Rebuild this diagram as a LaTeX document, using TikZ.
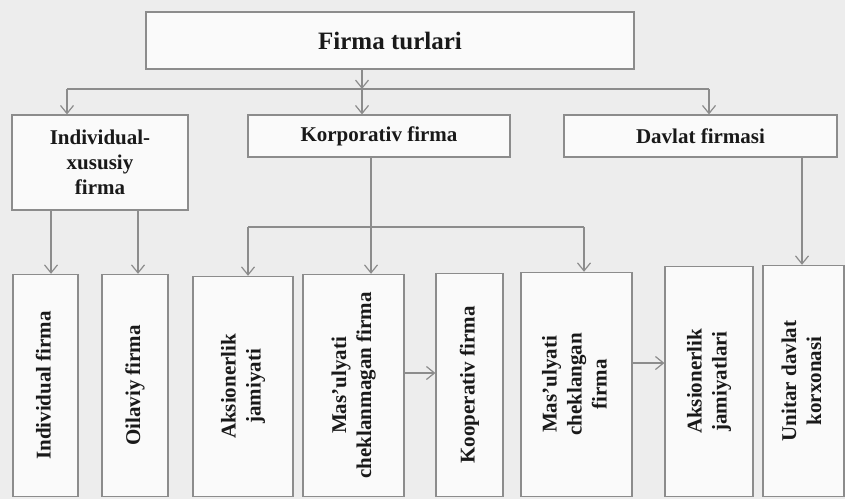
\documentclass[tikz,border=0pt]{standalone}
\usepackage{fontspec}
\setmainfont{Liberation Serif}
\usepackage{graphicx}
\usetikzlibrary{arrows.meta,positioning}

\newcommand{\vlabel}[1]{\rotatebox{90}{\begin{tabular}{@{}c@{}}#1\end{tabular}}}

\tikzset{
  box/.style={draw=black!45, fill=black!2, line width=1.2pt, align=center,
    text=black!90, inner sep=2pt, font=\bfseries\fontsize{21}{25}\selectfont},
  lowbox/.style={box, anchor=south},
}

\begin{document}
\begin{tikzpicture}[x=1pt, y=-1pt, line width=1.2pt,
    >={Straight Barb[length=8pt,width=13pt]}]
  \fill[black!7] (0,0) rectangle (845,499);
  \useasboundingbox (0,0) rectangle (845,499);

  \node [box, minimum width=488, minimum height=57,
    font=\bfseries\fontsize{25}{30}\selectfont] (f_0) at (390,40.5) {Firma turlari};
  \node [box, minimum width=176, minimum height=95] (f_1) at (100,162.5)
    {Individual-\\xususiy\\firma};
  \node [box, minimum width=262, minimum height=42] (f_2) at (379,136) {Korporativ firma};
  \node [box, minimum width=273, minimum height=42] (f_3) at (700.5,136) {Davlat firmasi};

  \node [lowbox, minimum width=65, minimum height=222] (g_1) at (45.5,497)
    {\vlabel{Individual firma}};
  \node [lowbox, minimum width=66, minimum height=222] (g_2) at (135,497)
    {\vlabel{Oilaviy firma}};
  \node [lowbox, minimum width=100, minimum height=220] (g_3) at (243,497)
    {\vlabel{Aksionerlik\\jamiyati}};
  \node [lowbox, minimum width=101, minimum height=222] (g_4) at (353.5,497)
    {\vlabel{Mas’ulyati\\cheklanmagan firma}};
  \node [lowbox, minimum width=67, minimum height=223] (g_5) at (469.5,497)
    {\vlabel{Kooperativ firma}};
  \node [lowbox, minimum width=111, minimum height=224] (g_6) at (576.5,497)
    {\vlabel{Mas’ulyati\\cheklangan\\firma}};
  \node [lowbox, minimum width=88, minimum height=230] (g_7) at (709,497)
    {\vlabel{Aksionerlik\\jamiyatlari}};
  \node [lowbox, minimum width=81, minimum height=231] (g_8) at (803.5,497)
    {\vlabel{Unitar davlat\\korxonasi}};

  \coordinate (j_0) at (362,89);
  \coordinate (j_1) at (67,89);
  \coordinate (j_2) at (709,89);
  \coordinate (j_3) at (248,227);
  \coordinate (j_4) at (371,227);
  \coordinate (j_5) at (584,227);

  \path[->, color=black!45]
    (f_0.south -| j_0) edge (j_0)
    (j_1) edge [-] (j_2)
    (j_1) edge (j_1 |- f_1.north)
    (j_0) edge (j_0 |- f_2.north)
    (j_2) edge (j_2 |- f_3.north)
    (f_1.south -| 51,0) edge (g_1.north -| 51,0)
    (f_1.south -| 138,0) edge (g_2.north -| 138,0)
    (f_2.south -| j_4) edge [-] (j_4)
    (j_3) edge [-] (j_5)
    (j_3) edge (j_3 |- g_3.north)
    (j_4) edge (j_4 |- g_4.north)
    (j_5) edge (j_5 |- g_6.north)
    (f_3.south -| 802,0) edge (g_8.north -| 802,0)
    (g_4.east |- 0,373) edge (g_5.west |- 0,373)
    (g_6.east |- 0,363) edge (g_7.west |- 0,363);
\end{tikzpicture}
\end{document}
